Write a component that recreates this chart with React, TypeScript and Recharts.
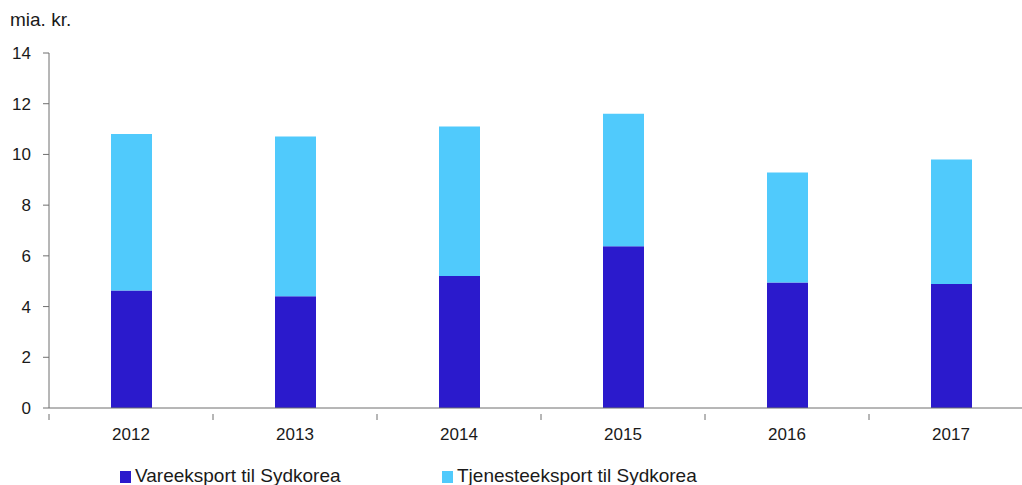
import { BarChart, Bar, XAxis, YAxis } from 'recharts';

const years = ['2012', '2013', '2014', '2015', '2016', '2017'];
const vareeksport = [4.63, 4.41, 5.21, 6.38, 4.95, 4.89];
const tjenesteeksport = [6.18, 6.3, 5.89, 5.22, 4.34, 4.91];
const yTicks = [0, 2, 4, 6, 8, 10, 12, 14];

const data = years.map((year, i) => ({
  year,
  vare: vareeksport[i],
  tjeneste: tjenesteeksport[i],
}));

const FONT = '"Liberation Sans", Arial, sans-serif';
const AXIS = '#6f6f6f';
const TEXT = '#1a1a1a';
const DARK = '#2b1acc';
const LIGHT = '#50cafc';

const CHART_W = 1040;
const PLOT_LEFT = 49;
const PLOT_RIGHT_MARGIN = 7;
const HALF_BAND = (CHART_W - PLOT_LEFT - PLOT_RIGHT_MARGIN) / years.length / 2;

const YearTick = (props: any) => {
  const { x, y, payload } = props;
  const bx = x - HALF_BAND;
  return (
    <g>
      <line x1={bx} y1={y - 14} x2={bx} y2={y - 8} stroke={AXIS} strokeWidth={1} />
      <text x={x} y={y + 12} textAnchor="middle" fill={TEXT} fontSize={17} fontFamily={FONT}>
        {payload.value}
      </text>
    </g>
  );
};

const legendItem = (left: number, color: string, label: string) => (
  <div
    style={{
      position: 'absolute',
      top: 465,
      left,
      display: 'flex',
      alignItems: 'center',
      fontSize: 19,
      color: TEXT,
      whiteSpace: 'nowrap',
    }}
  >
    <span style={{ display: 'inline-block', width: 11, height: 12, background: color, marginRight: 4, marginTop: 2 }} />
    <span>{label}</span>
  </div>
);

const App = () => {
  return (
    <div
      style={{
        position: 'absolute',
        left: 0,
        top: 0,
        width: 1022,
        height: 485,
        overflow: 'hidden',
        background: '#fff',
        fontFamily: FONT,
      }}
    >
      <div style={{ position: 'absolute', left: 10, top: 9, fontSize: 19, color: TEXT }}>mia. kr.</div>
      <BarChart
        width={CHART_W}
        height={485}
        data={data}
        margin={{ top: 53, right: PLOT_RIGHT_MARGIN, bottom: 47, left: 0 }}
        barSize={41}
      >
        <XAxis
          dataKey="year"
          stroke={AXIS}
          tickLine={false}
          tickMargin={14}
          tick={<YearTick />}
          height={30}
        />
        <YAxis
          width={PLOT_LEFT}
          domain={[0, 14]}
          ticks={yTicks}
          stroke={AXIS}
          tickSize={6}
          tickMargin={12}
          tick={{ fill: TEXT, fontSize: 17, fontFamily: FONT }}
          interval={0}
        />
        <Bar dataKey="vare" stackId="a" fill={DARK} isAnimationActive={false} />
        <Bar dataKey="tjeneste" stackId="a" fill={LIGHT} isAnimationActive={false} />
      </BarChart>
      {legendItem(120, DARK, 'Vareeksport til Sydkorea')}
      {legendItem(442, LIGHT, 'Tjenesteeksport til Sydkorea')}
    </div>
  );
};

export default App;
